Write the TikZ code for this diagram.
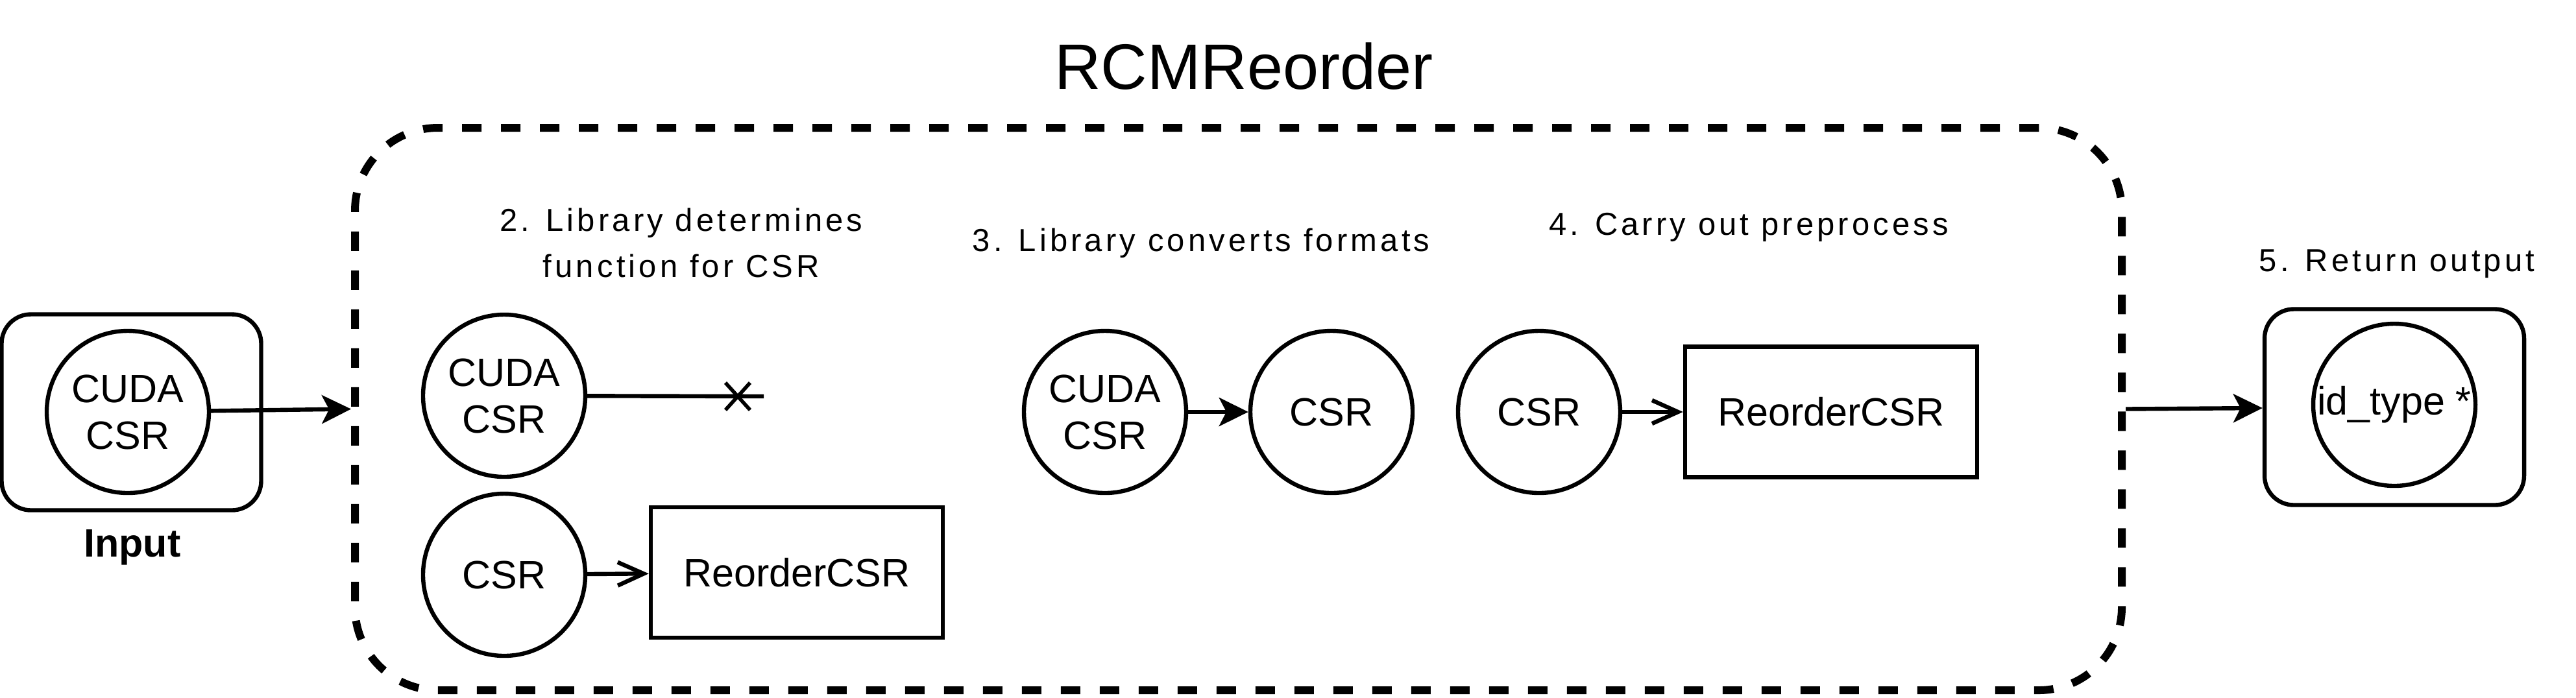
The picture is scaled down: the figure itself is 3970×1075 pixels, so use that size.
\documentclass[tikz,border=0pt]{standalone}
\usepackage{fontspec}
\setmainfont{Liberation Sans}
\newfontfamily\labelfont{Liberation Sans}[LetterSpace=10.5]
\usetikzlibrary{arrows.meta}
\tikzset{%
    datanode/.style={circle,draw,line width=1.6pt,minimum size=62.5pt,inner sep=0pt,align=center,font=\fontsize{15.25}{18}\selectfont},%
    funcbox/.style={rectangle,draw,line width=1.6pt,minimum width=112.5pt,minimum height=50.25pt,inner sep=0pt,font=\fontsize{15.25}{18}\selectfont},%
    holder/.style={rectangle,draw,rounded corners=11.25pt,line width=1.6pt,minimum width=100pt,minimum height=75.5pt,inner sep=0pt},%
    steplabel/.style={align=center,inner sep=0pt,font=\labelfont\fontsize{12.25}{17.75}\selectfont},%
    flow/.style={line width=1.6pt,-{Stealth[length=11.25pt,width=11pt,inset=2.8pt]}},%
    call/.style={line width=1.6pt,-{Straight Barb[length=10pt,width=9pt]}},%
}

\begin{document}
\begin{tikzpicture}[x=0.25pt,y=0.25pt,yscale=-1,xscale=1]
\useasboundingbox (0,0) rectangle (3970,1075);

%Text: title
\node [anchor=base,inner sep=0pt,font=\fontsize{24.75}{28}\selectfont] (title) at (1917,137) {RCMReorder};
%Shape: Dashed Rounded Rectangle
\node [draw,line width=3pt,dash pattern=on 7.5pt off 7.5pt,rounded corners=32pt,minimum width=680.75pt,minimum height=216.75pt,inner sep=0pt] (rcm) at (1908.5,630.5) {};

%Input
\node [holder] (inbox) at (202.5,635.5) {};
\node [datanode] (incsr) at (197,635) {CUDA\\CSR};
\node [anchor=base,inner sep=0pt,font=\bfseries\fontsize{15.25}{18}\selectfont] (inlabel) at (204,858) {Input};
\draw [flow] (incsr) -- (rcm.west);

%Step 2
\node [steplabel] (lab2) at (1050,374) {2. Library determines\\function for CSR};
\node [datanode] (cuda2) at (777,610) {CUDA\\CSR};
\coordinate (cut) at (1177,611);
\coordinate (cross) at (1137,611);
\draw [line width=1.6pt] (cuda2) -- (cut);
\draw [line width=1.4pt] (cross) +(-19,-21) -- +(19,21) (cross) +(-19,21) -- +(19,-21);
\node [datanode] (csr2) at (777,886) {CSR};
\node [funcbox] (reorder2) at (1228,882.5) {ReorderCSR};
\draw [call] (csr2) -- (reorder2);

%Step 3
\node [steplabel,anchor=base] (lab3) at (1851,387) {3. Library converts formats};
\node [datanode] (cuda3) at (1703,635) {CUDA\\CSR};
\node [datanode] (csr3) at (2052,635) {CSR};
\draw [flow] (cuda3) -- (csr3);

%Step 4
\node [steplabel,anchor=base] (lab4) at (2695,362) {4. Carry out preprocess};
\node [datanode] (csr4) at (2372,635) {CSR};
\node [funcbox] (reorder4) at (2822,635) {ReorderCSR};
\draw [call] (csr4) -- (reorder4);

%Step 5
\node [steplabel,anchor=base] (lab5) at (3694,418) {5. Return output};
\node [holder] (outbox) at (3690,627.5) {};
\node [datanode] (outptr) at (3690,624) {id\_type *};
\draw [flow] (rcm.east) -- (outbox);

\end{tikzpicture}
\end{document}
